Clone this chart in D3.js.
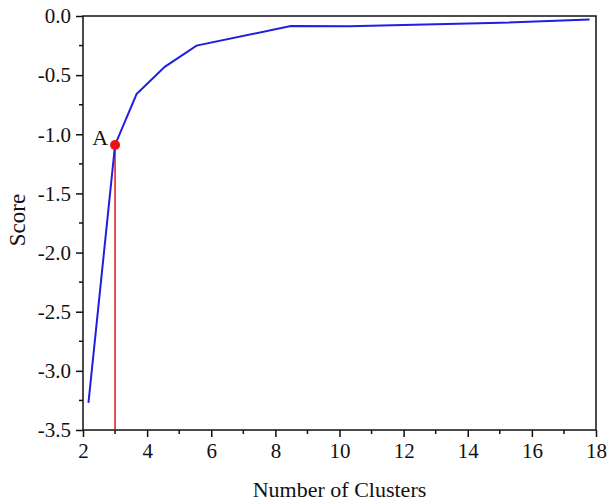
<!DOCTYPE html>
<html><head><meta charset="utf-8">
<script src="https://cdn.jsdelivr.net/npm/d3@7/dist/d3.min.js"></script>
<style>body{margin:0;background:#fff}svg text{font-family:"Liberation Serif","Times New Roman",serif !important;fill:#111}</style>
</head><body><div id="chart"></div>
<script>
const clusters = [2.17, 3.0, 3.67, 4.55, 5.54, 8.48, 10.3, 14.7, 17.8];
const scores = [-3.27, -1.09, -0.66, -0.43, -0.25, -0.085, -0.087, -0.06, -0.03];
const xTicks = [2, 4, 6, 8, 10, 12, 14, 16, 18];
const yTicks = [0, -0.5, -1.0, -1.5, -2.0, -2.5, -3.0, -3.5];
const marked = {x: 3.0, y: -1.09, label: "A"};

const W = 608, H = 504;
const FONT = "Liberation Serif, Times New Roman, serif";
const m = {left: 83, right: 12, top: 16, bottom: 74};
const svg = d3.select("#chart").append("svg").attr("width", W).attr("height", H);
const x = d3.scaleLinear().domain([2, 18]).range([m.left, W - m.right]);
const y = d3.scaleLinear().domain([-3.5, 0]).range([H - m.bottom, m.top]);

// minor ticks
const xMinor = d3.range(3, 18, 2);
const yMinor = d3.range(-3.25, 0, 0.5);
const g = svg.append("g");
g.selectAll(".xm").data(xMinor).join("line")
  .attr("x1", d => x(d)).attr("x2", d => x(d))
  .attr("y1", y(-3.5)).attr("y2", y(-3.5) + 4).attr("stroke", "#111").attr("stroke-width", 1.5);
g.selectAll(".ym").data(yMinor).join("line")
  .attr("y1", d => y(d)).attr("y2", d => y(d))
  .attr("x1", x(2)).attr("x2", x(2) - 4).attr("stroke", "#111").attr("stroke-width", 1.5);

const fmtY = d => d3.format(".1f")(d).replace("\u2212", "-");
const xAxis = svg.append("g").attr("transform", `translate(0,${y(-3.5)})`)
  .call(d3.axisBottom(x).tickValues(xTicks).tickFormat(d3.format("d")).tickSize(7).tickPadding(6));
const yAxis = svg.append("g").attr("transform", `translate(${x(2)},0)`)
  .call(d3.axisLeft(y).tickValues(yTicks).tickFormat(fmtY).tickSize(7).tickPadding(5));
[xAxis, yAxis].forEach(a => {
  a.attr("font-family", FONT).attr("font-size", 21);
  a.select(".domain").remove();
  a.selectAll("line").attr("stroke", "#111").attr("stroke-width", 1.5);
  a.selectAll("text").attr("font-family", FONT).attr("font-size", 21).attr("fill", "#111");
});

// frame
svg.append("rect").attr("x", x(2)).attr("y", y(0)).attr("width", x(18) - x(2)).attr("height", y(-3.5) - y(0))
  .attr("fill", "none").attr("stroke", "#111").attr("stroke-width", 1.5);

// red drop line
svg.append("line").attr("x1", x(marked.x)).attr("x2", x(marked.x))
  .attr("y1", y(marked.y)).attr("y2", y(-3.5)).attr("stroke", "#e8141c").attr("stroke-width", 1.5);

// blue line
const data = clusters.map((c, i) => [c, scores[i]]);
svg.append("path").datum(data)
  .attr("d", d3.line().x(d => x(d[0])).y(d => y(d[1])))
  .attr("fill", "none").attr("stroke", "#1f1fe0").attr("stroke-width", 2);

// point A
svg.append("circle").attr("cx", x(marked.x)).attr("cy", y(marked.y)).attr("r", 5).attr("fill", "#ee1111");
svg.append("text").attr("x", x(marked.x) - 7).attr("y", y(marked.y)).attr("text-anchor", "end")
  .attr("font-family", FONT).attr("font-size", 22).text(marked.label);

// axis titles
svg.append("text").attr("x", (x(2) + x(18)) / 2).attr("y", 497).attr("text-anchor", "middle")
  .attr("font-family", FONT).attr("font-size", 22).text("Number of Clusters");
svg.append("text").attr("transform", `translate(25,${(y(0) + y(-3.5)) / 2 - 3}) rotate(-90)`)
  .attr("text-anchor", "middle").attr("font-family", FONT).attr("font-size", 23).text("Score");
</script></body></html>
